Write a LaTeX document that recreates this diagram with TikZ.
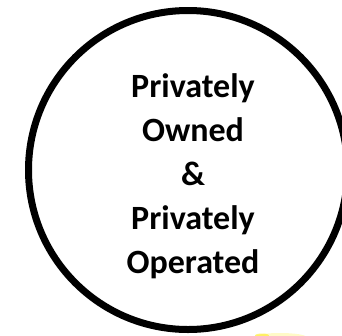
\documentclass[tikz,border=0pt]{standalone}
\usepackage{fontspec}
\setmainfont{Carlito}
\begin{document}
\begin{tikzpicture}[x=1pt,y=-1pt,
  ring/.style={draw=black,line width=7pt},
  lbl/.style={font=\bfseries\fontsize{34}{44}\selectfont,anchor=base,inner sep=0pt}]
\useasboundingbox (0,0) rectangle (342,335);
\begin{scope}
\clip (0,0) rectangle (342,335);
\fill[yellow!90!orange,opacity=0.22] (280,337) ellipse (26 and 4);
\fill[yellow!90!orange,opacity=0.5] (262,335.5) ellipse (7 and 2);
\node[ring,circle,minimum size=319pt,inner sep=0pt] (c) at (188,170) {};
\end{scope}
\node[lbl] (l1) at (193,97) {Privately};
\node[lbl] (l2) at (193,141) {Owned};
\node[lbl] (l3) at (193,185) {\&};
\node[lbl] (l4) at (193,229) {Privately};
\node[lbl] (l5) at (193,273) {Operated};
\end{tikzpicture}
\end{document}
